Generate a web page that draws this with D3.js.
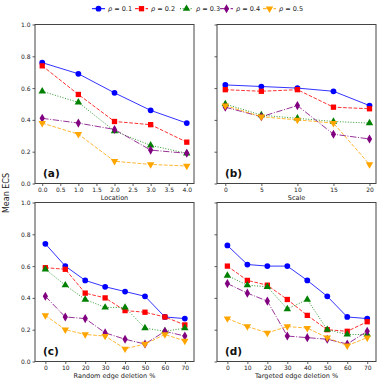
<!DOCTYPE html>
<html>
<head>
<meta charset="utf-8">
<script src="https://cdn.jsdelivr.net/npm/d3@7"></script>
<style>
body { margin: 0; background: #fff; }
text { font-family: "DejaVu Sans", sans-serif; }
</style>
</head>
<body>
<div id="chart"></div>
<script>
// data
let seriesNames = ["0.1", "0.2", "0.3", "0.4", "0.5"];

let locationX = [0, 1, 2, 3, 4];
let locationY = [
    [0.76, 0.69, 0.57, 0.46, 0.38],
    [0.74, 0.56, 0.39, 0.37, 0.26],
    [0.58, 0.51, 0.33, 0.24, 0.19],
    [0.41, 0.38, 0.34, 0.21, 0.19],
    [0.38, 0.31, 0.14, 0.12, 0.11]
];

let scaleX = [0, 5, 10, 15, 20];
let scaleY = [
    [0.62, 0.61, 0.60, 0.58, 0.49],
    [0.59, 0.58, 0.59, 0.48, 0.47],
    [0.50, 0.43, 0.41, 0.39, 0.38],
    [0.48, 0.42, 0.49, 0.31, 0.28],
    [0.49, 0.42, 0.40, 0.38, 0.12]
];

let randomX = [0, 10, 20, 30, 40, 50, 60, 70];
let randomY = [
    [0.74, 0.60, 0.51, 0.47, 0.44, 0.41, 0.28, 0.27],
    [0.59, 0.58, 0.43, 0.40, 0.32, 0.31, 0.28, 0.23],
    [0.58, 0.48, 0.39, 0.34, 0.34, 0.21, 0.19, 0.21],
    [0.41, 0.28, 0.27, 0.18, 0.14, 0.11, 0.19, 0.16],
    [0.29, 0.20, 0.17, 0.16, 0.08, 0.11, 0.17, 0.13]
];

let targetedX = [0, 10, 20, 30, 40, 50, 60, 70];
let targetedY = [
    [0.73, 0.61, 0.60, 0.60, 0.51, 0.41, 0.28, 0.27],
    [0.60, 0.51, 0.48, 0.39, 0.29, 0.20, 0.19, 0.25],
    [0.54, 0.48, 0.47, 0.33, 0.39, 0.20, 0.17, 0.17],
    [0.49, 0.43, 0.38, 0.16, 0.15, 0.14, 0.11, 0.19],
    [0.27, 0.22, 0.18, 0.22, 0.21, 0.15, 0.10, 0.15]
];

let yTicks = [0.0, 0.2, 0.4, 0.6, 0.8, 1.0];

// styles
let colors = ["#0000ff", "#ff0000", "#008000", "#800080", "#ffa500"];
let dashes = [null, "3.7,1.6", "1,1.65", "6.4,1.6,1,1.6", "3.7,1.6"];
let symbols = [d3.symbolCircle, d3.symbolSquare, d3.symbolTriangle, d3.symbolDiamond, d3.symbolTriangle];
let symSize = [26, 28, 24, 24, 24];
let symRotate = [0, 0, 0, 0, 180];

let width = 381, height = 382;

let svg = d3.select("#chart")
    .append("svg")
    .attr("width", width)
    .attr("height", height);

let panels = [
    {xs: locationX, ys: locationY, left: 35, top: 24.5, xdom: [-0.2, 4.2], ticks: d3.range(0, 4.01, 0.5), fmt: d3.format(".1f"), xlabel: "Location", tag: "(a)", ylabels: true},
    {xs: scaleX, ys: scaleY, left: 217, top: 24.5, xdom: [-1.15, 20.9], ticks: scaleX, fmt: d3.format("d"), xlabel: "Scale", tag: "(b)", ylabels: false},
    {xs: randomX, ys: randomY, left: 35, top: 202.5, xdom: [-5.2, 74.6], ticks: randomX, fmt: d3.format("d"), xlabel: "Random edge deletion %", tag: "(c)", ylabels: true},
    {xs: targetedX, ys: targetedY, left: 217, top: 202.5, xdom: [-5.2, 74.4], ticks: targetedX, fmt: d3.format("d"), xlabel: "Targeted edge deletion %", tag: "(d)", ylabels: false}
];
let pw = 159, ph = 159;

panels.forEach(function (p) {
    let g = svg.append("g")
        .attr("transform", "translate(" + p.left + "," + p.top + ")");

    let x = d3.scaleLinear().domain(p.xdom).range([0, pw]);
    let y = d3.scaleLinear().domain([0, 1]).range([ph, 0]);

    let xAxis = g.append("g")
        .attr("transform", "translate(0," + ph + ")")
        .call(d3.axisBottom(x).tickValues(p.ticks).tickFormat(p.fmt).tickSize(2.5).tickPadding(2));
    let yAxis = g.append("g")
        .call(d3.axisLeft(y).tickValues(yTicks).tickFormat(p.ylabels ? d3.format(".1f") : "").tickSize(2.5).tickPadding(2));

    [xAxis, yAxis].forEach(function (a) {
        a.select(".domain").remove();
        a.selectAll("line").attr("stroke", "#333").attr("stroke-width", 0.8);
        a.selectAll("text").attr("font-size", 6).attr("fill", "#222")
            .style("font-family", "'DejaVu Sans', sans-serif");
    });

    g.append("rect")
        .attr("width", pw)
        .attr("height", ph)
        .attr("fill", "none")
        .attr("stroke", "#444")
        .attr("stroke-width", 1);

    let line = d3.line()
        .x(function (d) { return x(d[0]); })
        .y(function (d) { return y(d[1]); });

    p.ys.forEach(function (vals, i) {
        let pts = p.xs.map(function (xv, j) { return [xv, vals[j]]; });
        g.append("path")
            .datum(pts)
            .attr("d", line)
            .attr("fill", "none")
            .attr("stroke", colors[i])
            .attr("stroke-opacity", 0.8)
            .attr("stroke-width", 1)
            .attr("stroke-dasharray", dashes[i]);
        g.selectAll(".m" + i)
            .data(pts)
            .enter()
            .append("path")
            .attr("d", d3.symbol().type(symbols[i]).size(symSize[i]))
            .attr("transform", function (d) {
                return "translate(" + x(d[0]) + "," + y(d[1]) + ") rotate(" + symRotate[i] + ")";
            })
            .attr("fill", colors[i]);
    });

    g.append("text")
        .attr("x", pw / 2)
        .attr("y", ph + 16)
        .attr("text-anchor", "middle")
        .attr("font-size", 6.5)
        .attr("fill", "#222")
        .text(p.xlabel);

    g.append("text")
        .attr("x", 8)
        .attr("y", ph - 7)
        .attr("font-size", 10.5)
        .attr("font-weight", "bold")
        .attr("fill", "#111")
        .text(p.tag);
});

// y label shared by all panels
svg.append("text")
    .attr("transform", "translate(9,193) rotate(-90)")
    .attr("text-anchor", "middle")
    .attr("font-size", 8)
    .attr("fill", "#222")
    .text("Mean ECS");

// legend across the top
let legend = svg.append("g").attr("transform", "translate(92,8.7)");
let legendStep = [0, 43, 88, 128, 171];
seriesNames.forEach(function (name, i) {
    let lg = legend.append("g").attr("transform", "translate(" + legendStep[i] + ",0)");
    lg.append("line")
        .attr("x1", 0).attr("x2", 13)
        .attr("stroke", colors[i])
        .attr("stroke-width", 1)
        .attr("stroke-dasharray", dashes[i]);
    lg.append("path")
        .attr("d", d3.symbol().type(symbols[i]).size(symSize[i]))
        .attr("transform", "translate(6.5,0) rotate(" + symRotate[i] + ")")
        .attr("fill", colors[i]);
    let t = lg.append("text")
        .attr("x", 16)
        .attr("y", 2.3)
        .attr("font-size", 6.5)
        .attr("fill", "#222");
    t.append("tspan").attr("font-style", "italic").text("ρ");
    t.append("tspan").text(" = " + name);
});
</script>
</body>
</html>
